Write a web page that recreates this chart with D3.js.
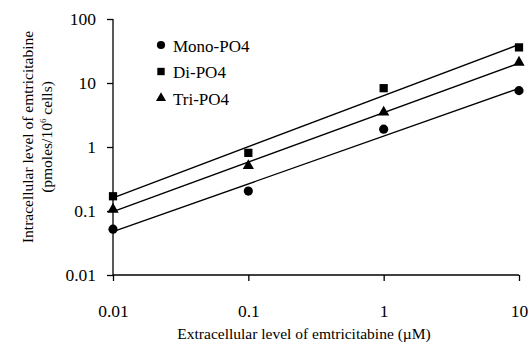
<!DOCTYPE html>
<html>
<head>
<meta charset="utf-8">
<script src="https://cdn.jsdelivr.net/npm/d3@7"></script>
<style>
  body { margin: 0; background: #fff; }
  text { font-family: "Liberation Serif", "DejaVu Serif", serif; fill: #000; }
</style>
</head>
<body>
<div id="chart"></div>
<script>
// extracellular concentration (uM)
var conc = [0.01, 0.1, 1, 10];
// intracellular levels (pmoles/10^6 cells)
var mono = [0.052, 0.205, 1.9, 7.6];
var di   = [0.17, 0.81, 8.3, 36];
var tri  = [0.106, 0.51, 3.5, 21];
var seriesNames = ["Mono-PO4", "Di-PO4", "Tri-PO4"];
var xTicks = [0.01, 0.1, 1, 10];
var yTicks = [0.01, 0.1, 1, 10, 100];

var W = 528, H = 343;
var svg = d3.select("#chart").append("svg").attr("width", W).attr("height", H);

var x = d3.scaleLog().domain([0.01, 10]).range([113, 519]);
var y = d3.scaleLog().domain([0.01, 100]).range([275, 19]);

// axes
var xAxis = d3.axisBottom(x).tickValues(xTicks).tickSize(6).tickPadding(24)
  .tickFormat(function (d) { return String(d); });
var gx = svg.append("g").attr("transform", "translate(0,275)").call(xAxis);
gx.select(".domain").attr("d", "M113,0H519").attr("stroke-width", 1.5);
gx.selectAll("line").attr("stroke-width", 1.3);
gx.selectAll("text").style("font-size", "17.5px");

var yAxis = d3.axisLeft(y).tickValues(yTicks).tickSize(6).tickPadding(11)
  .tickFormat(function (d) { return String(d); });
var gy = svg.append("g").attr("transform", "translate(113,0)").call(yAxis);
gy.select(".domain").attr("d", "M0,19V275").attr("stroke-width", 1.3);
gy.selectAll("line").attr("stroke-width", 1.3);
gy.selectAll("text").style("font-size", "17.5px");

// power-law fit in log-log space
function fit(xs, ys) {
  var lx = xs.map(Math.log10), ly = ys.map(Math.log10);
  var mx = d3.mean(lx), my = d3.mean(ly);
  var num = d3.sum(lx, function (v, i) { return (v - mx) * (ly[i] - my); });
  var den = d3.sum(lx, function (v) { return (v - mx) * (v - mx); });
  var b = num / den, a = my - b * mx;
  return function (v) { return Math.pow(10, a + b * Math.log10(v)); };
}

var series = [
  { name: seriesNames[0], vals: mono, sym: d3.symbolCircle, size: 66 },
  { name: seriesNames[1], vals: di, sym: d3.symbolSquare, size: 68 },
  { name: seriesNames[2], vals: tri, sym: d3.symbolTriangle, size: 55 }
];

var line = d3.line().x(function (d) { return x(d[0]); }).y(function (d) { return y(d[1]); });

series.forEach(function (s) {
  var f = fit(conc, s.vals);
  svg.append("path")
    .attr("d", line([[0.01, f(0.01)], [10, f(10)]]))
    .attr("fill", "none").attr("stroke", "#000").attr("stroke-width", 1.4);
  svg.selectAll(null).data(conc).enter().append("path")
    .attr("d", d3.symbol().type(s.sym).size(s.size))
    .attr("transform", function (d, i) { return "translate(" + x(d) + "," + y(s.vals[i]) + ")"; })
    .attr("fill", "#000");
});

// legend
var leg = svg.append("g");
series.forEach(function (s, i) {
  var cy = 45 + i * 26.5;
  leg.append("path")
    .attr("d", d3.symbol().type(s.sym).size(s.size * 0.8))
    .attr("transform", "translate(161," + cy + ")").attr("fill", "#000");
  leg.append("text").attr("x", 173).attr("y", cy + 6.5)
    .style("font-size", "17px").text(s.name);
});

// axis titles
svg.append("text").attr("x", 304).attr("y", 339).attr("text-anchor", "middle")
  .style("font-size", "15.5px").text("Extracellular level of emtricitabine (\u00b5M)");

var yt = svg.append("text").attr("transform", "translate(0,137) rotate(-90)")
  .attr("text-anchor", "middle").style("font-size", "15.5px");
yt.append("tspan").attr("x", 0).attr("y", 33).text("Intracellular level of emtricitabine");
yt.append("tspan").attr("x", 0).attr("y", 52).text("(pmoles/10");
yt.append("tspan").attr("dy", -6).style("font-size", "9px").text("6");
yt.append("tspan").attr("dy", 6).text(" cells)");
</script>
</body>
</html>
